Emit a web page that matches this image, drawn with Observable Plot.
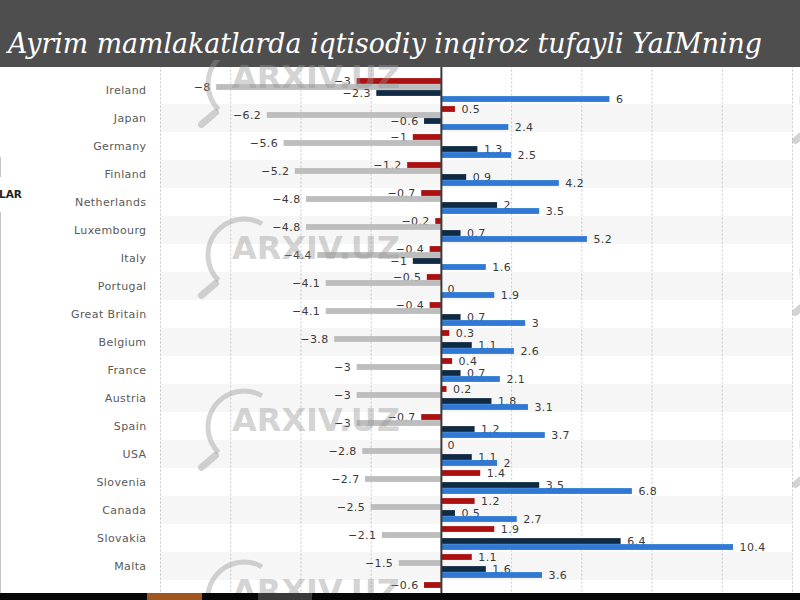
<!DOCTYPE html>
<html><head><meta charset="utf-8">
<script src="https://cdn.jsdelivr.net/npm/d3@7"></script>
<script src="https://cdn.jsdelivr.net/npm/@observablehq/plot@0.6"></script>
<style>
html,body{margin:0;padding:0;}
body{width:800px;height:600px;overflow:hidden;position:relative;background:#4e4e4e;font-family:"DejaVu Sans",sans-serif;}
#title{position:absolute;left:8px;top:30px;color:#fff;font-family:"DejaVu Serif",serif;font-style:italic;font-size:27px;line-height:27px;white-space:nowrap;transform-origin:left top;}
#chartbox{position:absolute;left:0;top:67px;width:800px;height:526px;background:#fff;overflow:hidden;}
#chartbox svg text{letter-spacing:0.4px;}
#bottombar{position:absolute;left:0;top:593px;width:800px;height:7px;background:#070707;}
#b1{position:absolute;left:147px;top:593px;width:55px;height:7px;background:#a0561f;}
#b2{position:absolute;left:258px;top:593px;width:54px;height:7px;background:#3a3a3a;}
#lar{position:absolute;left:-1px;top:188px;font:bold 10.5px "DejaVu Sans",sans-serif;color:#222;}
.vline{position:absolute;left:0;width:1px;background:#c4c4c4;}
#wm{position:absolute;left:0;top:0;pointer-events:none;}
</style>
</head><body>
<div id="title">Ayrim mamlakatlarda iqtisodiy inqiroz tufayli YaIMning</div>
<div id="chartbox"></div>
<div class="vline" style="top:157px;height:20px"></div>
<div class="vline" style="top:212px;height:381px"></div>
<div id="lar">LAR</div>
<script>
// ---- data ----
const countries = ["Ireland","Japan","Germany","Finland","Netherlands","Luxembourg","Italy","Portugal","Great Britain","Belgium","France","Austria","Spain","USA","Slovenia","Canada","Slovakia","Malta","row19"];
const shownLabels = countries.slice(0, 18); // the 19th row's name is hidden under the bottom bar
const seriesRed  = [-3, 0.5, -1, -1.2, -0.7, -0.2, -0.4, -0.5, -0.4, 0.3, 0.4, 0.2, -0.7, 0, 1.4, 1.2, 1.9, 1.1, -0.6];
const seriesGray = [-8, -6.2, -5.6, -5.2, -4.8, -4.8, -4.4, -4.1, -4.1, -3.8, -3, -3, -3, -2.8, -2.7, -2.5, -2.1, -1.5, null];
const seriesNavy = [-2.3, -0.6, 1.3, 0.9, 2, 0.7, -1, 0, 0.7, 1.1, 0.7, 1.8, 1.2, 1.1, 3.5, 0.5, 6.4, 1.6, null];
const seriesBlue = [6, 2.4, 2.5, 4.2, 3.5, 5.2, 1.6, 1.9, 3, 2.6, 2.1, 3.1, 3.7, 2, 6.8, 2.7, 10.4, 3.6, null];
const gridTicks = [-10, -7.5, -5, -2.5, 0, 2.5, 5, 7.5, 10, 12.5];
const colors = {red:"#ab0f0f", gray:"#bdbdbd", navy:"#112a43", blue:"#2f79d4"};

const rows = vals => countries.map((c,i)=>({country:c, value:vals[i]})).filter(d=>d.value!=null);
const fmt = v => v < 0 ? "\u2212" + String(Math.abs(v)) : String(v);
const bw = 28.21, mt = 6.6, bh = 6;

function seriesMarks(vals, color, off){
  const data = rows(vals);
  const it = bw/2 + off - bh/2, ib = bw/2 - off - bh/2;
  return [
    Plot.barX(data, {x:"value", y:"country", fill:color, insetTop:it, insetBottom:ib}),
    Plot.text(data.filter(d=>d.value>=0), {x:"value", y:"country", dy:off, dx:6, textAnchor:"start", text:d=>fmt(d.value), fill:"#3a3a3a", fontSize:11}),
    Plot.text(data.filter(d=>d.value<0), {x:"value", y:"country", dy:off, dx:-6, textAnchor:"end", text:d=>fmt(d.value), fill:"#3a3a3a", fontSize:11})
  ];
}

const shade = countries.filter((d,i)=>i%2===1);
const chart = Plot.plot({
  width:800, height:Math.round(mt + countries.length*bw),
  marginTop:mt, marginBottom:0, marginLeft:160, marginRight:8,
  style:{fontFamily:"DejaVu Sans, sans-serif", background:"transparent"},
  x:{domain:[-10,12.5], axis:null},
  y:{domain:countries, padding:0, axis:null},
  marks:[
    Plot.barX(shade, {y:d=>d, x1:()=>-10, x2:()=>12.5, fill:"#f6f6f6"}),
    Plot.ruleX(gridTicks.filter(t=>t!==0), {stroke:"#c9c9c9", strokeDasharray:"2,2", insetTop:-8}),
    Plot.text(shownLabels, {y:d=>d, x:()=>-10, dx:-14, textAnchor:"end", text:d=>d, fill:"#5a5a5a", fontSize:11}),
    ...seriesMarks(seriesRed, colors.red, -9),
    ...seriesMarks(seriesGray, colors.gray, -3),
    ...seriesMarks(seriesNavy, colors.navy, 3),
    ...seriesMarks(seriesBlue, colors.blue, 9),
    Plot.ruleX([0], {stroke:"#3a3a3a", strokeWidth:2, insetTop:-8})
  ]
});
document.getElementById("chartbox").appendChild(chart);

// title width fit
const t = document.getElementById("title");
const w = t.getBoundingClientRect().width;
t.style.transform = `scaleX(${754/w})`;

// watermarks
const NS = "http://www.w3.org/2000/svg";
const wm = document.createElementNS(NS, "svg");
wm.setAttribute("id","wm"); wm.setAttribute("width",800); wm.setAttribute("height",593);
const wmCol = "rgba(150,150,150,0.42)";
function mark(cx, cy, withText){
  const r = 36, p = a => [cx + r*Math.cos(a*Math.PI/180), cy + r*Math.sin(a*Math.PI/180)];
  const a0 = p(-60), a1 = p(135);
  const path = document.createElementNS(NS,"path");
  path.setAttribute("d", `M${a0[0]},${a0[1]} A${r},${r} 0 0 0 ${a1[0]},${a1[1]}`);
  path.setAttribute("fill","none"); path.setAttribute("stroke",wmCol); path.setAttribute("stroke-width",5);
  wm.appendChild(path);
  const h = document.createElementNS(NS,"line");
  h.setAttribute("x1",a1[0]-3); h.setAttribute("y1",a1[1]+3); h.setAttribute("x2",a1[0]-17); h.setAttribute("y2",a1[1]+15);
  h.setAttribute("stroke",wmCol); h.setAttribute("stroke-width",7); h.setAttribute("stroke-linecap","round");
  wm.appendChild(h);
  if (withText){
    const tx = document.createElementNS(NS,"text");
    tx.setAttribute("x", cx-12); tx.setAttribute("y", cy+4);
    tx.setAttribute("font-family","DejaVu Sans, sans-serif"); tx.setAttribute("font-weight","bold");
    tx.setAttribute("font-size",32); tx.setAttribute("fill",wmCol);
    tx.textContent = "ARXIV.UZ";
    wm.appendChild(tx);
  }
}
[84, 255, 427, 598].forEach(cy => mark(244, cy, true));
[100, 272, 444].forEach(cy => mark(838, cy, false));
const holder = document.createElement("div");
holder.style.cssText = "position:absolute;left:0;top:0;width:800px;height:593px;overflow:hidden;pointer-events:none;clip-path:inset(60px 0 0 0);";
holder.appendChild(wm);
document.body.appendChild(holder);
</script>
<div id="bottombar"></div><div id="b1"></div><div id="b2"></div>
</body></html>
